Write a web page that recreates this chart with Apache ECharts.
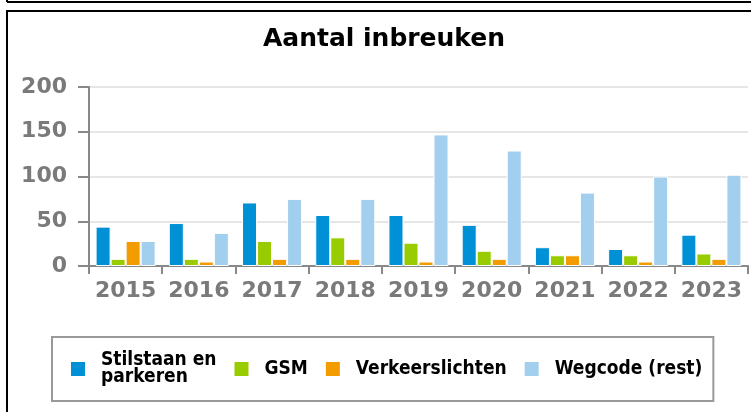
<!DOCTYPE html>
<html>
<head>
<meta charset="utf-8">
<script src="https://cdn.jsdelivr.net/npm/echarts@6/dist/echarts.min.js"></script>
<style>
  html, body { margin: 0; padding: 0; background: #fff; }
  #chart { width: 751px; height: 412px; }
</style>
</head>
<body>
<div id="chart"></div>
<script>
var years = ['2015', '2016', '2017', '2018', '2019', '2020', '2021', '2022', '2023'];
var seriesNames = ['Stilstaan en parkeren', 'GSM', 'Verkeerslichten', 'Wegcode (rest)'];
var stilstaan = [44, 48, 71, 57, 57, 46, 21, 19, 35];
var gsm = [8, 8, 28, 32, 26, 17, 12, 12, 14];
var verkeerslichten = [28, 5, 8, 8, 5, 8, 12, 5, 8];
var wegcode = [28, 37, 75, 75, 147, 129, 82, 100, 102];
var colors = ['#0090d5', '#99cc00', '#f39c00', '#a2cfee'];

var chart = echarts.init(document.getElementById('chart'));

var allData = [stilstaan, gsm, verkeerslichten, wegcode];
var series = [];
for (var i = 0; i < seriesNames.length; i++) {
  series.push({
    name: seriesNames[i],
    type: 'bar',
    data: allData[i],
    barGap: '0%',
    barCategoryGap: '18%',
    itemStyle: { color: colors[i], borderColor: '#fff', borderWidth: 1 }
  });
}

var option = {
  animation: false,
  color: colors,
  title: {
    text: 'Aantal inbreuken',
    left: 379,
    textAlign: 'center',
    top: 22,
    textStyle: { fontFamily: 'DejaVu Sans', fontWeight: 'bold', fontSize: 25, color: '#000' }
  },
  // kader rond de grafiek
  graphic: [
    { type: 'line', shape: { x1: 7, y1: 2, x2: 760, y2: 2 }, style: { stroke: '#000', lineWidth: 2 } },
    { type: 'line', shape: { x1: 7, y1: -5, x2: 7, y2: 2 }, style: { stroke: '#000', lineWidth: 2 } },
    { type: 'rect', shape: { x: 7, y: 11, width: 760, height: 420 }, style: { fill: 'none', stroke: '#000', lineWidth: 2 } }
  ],
  legend: {
    data: seriesNames,
    left: 52,
    top: 337,
    padding: [14, 11, 14, 17],
    borderColor: '#999',
    borderWidth: 2,
    itemWidth: 16,
    itemHeight: 16,
    itemGap: 16,
    icon: 'rect',
    formatter: function (name) {
      return name === 'Stilstaan en parkeren' ? 'Stilstaan en\nparkeren' : name;
    },
    textStyle: {
      fontFamily: 'DejaVu Sans Condensed, DejaVu Sans',
      fontWeight: 'bold',
      fontSize: 19,
      lineHeight: 17,
      color: '#000',
      padding: [0, 0, 0, 10]
    }
  },
  grid: { left: 89, right: 3, top: 87, bottom: 146 },
  xAxis: {
    type: 'category',
    data: years,
    axisLine: { lineStyle: { color: '#888', width: 2 } },
    axisTick: { show: true, length: 8, lineStyle: { color: '#888', width: 2 } },
    axisLabel: { interval: 0, margin: 14, fontFamily: 'DejaVu Sans', fontWeight: 'bold', fontSize: 22, color: '#7a7a7a' }
  },
  yAxis: {
    type: 'value',
    min: 0,
    max: 200,
    interval: 50,
    axisLine: { show: true, lineStyle: { color: '#888', width: 2 } },
    axisTick: { show: true, length: 11, lineStyle: { color: '#888', width: 2 } },
    axisLabel: { margin: 22, fontFamily: 'DejaVu Sans', fontWeight: 'bold', fontSize: 22, color: '#7a7a7a' },
    splitLine: { lineStyle: { color: '#e6e6e6', width: 2 } }
  },
  series: series
};

chart.setOption(option);
</script>
</body>
</html>
